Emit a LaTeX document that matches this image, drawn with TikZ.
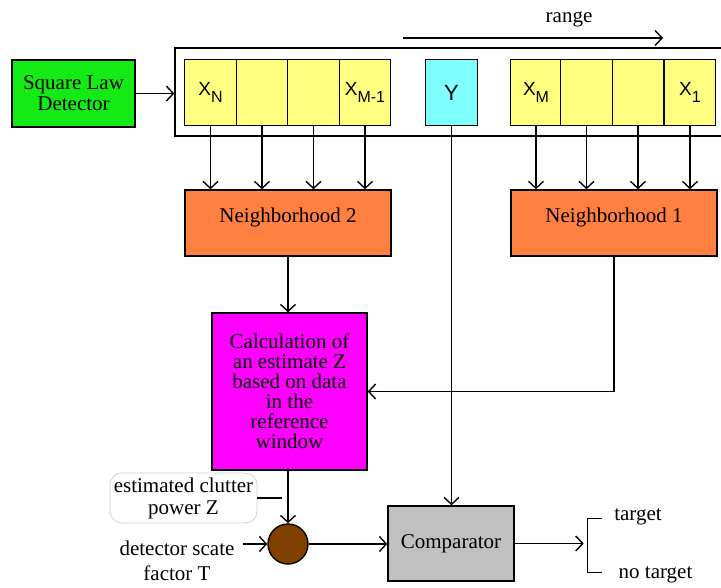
\documentclass[tikz,border=0pt]{standalone}
\usepackage{fontspec}
\setmainfont{Liberation Serif}
\newfontfamily\cellfont{Liberation Sans}
\usetikzlibrary{arrows.meta,positioning}

\definecolor{detgreen}{RGB}{20,235,20}
\definecolor{cellyellow}{RGB}{255,255,128}
\definecolor{cellcyan}{RGB}{128,255,255}
\definecolor{nborange}{RGB}{255,128,64}
\definecolor{calcmagenta}{RGB}{255,0,255}
\definecolor{compgray}{RGB}{192,192,192}
\definecolor{mulbrown}{RGB}{128,64,0}

\newcommand{\sublab}[2]{#1\raisebox{-7pt}{\fontsize{16}{16}\selectfont #2}}

\begin{document}
\begin{tikzpicture}[x=1pt, y=-1pt, line width=1.4pt,
  >={Straight Barb[length=7pt, width=15pt]},
  every node/.style={font=\fontsize{21}{21}\selectfont},
  % Plain boxes with a dark border
  blockbox/.style={draw, line width=1.4pt, inner sep=0pt, align=center},
  cellbox/.style={blockbox, fill=cellyellow, minimum width=51.5pt, minimum height=66pt,
                  font=\cellfont\fontsize{19}{19}\selectfont},
  nbbox/.style={blockbox, fill=nborange, minimum width=206pt, minimum height=66pt,
                text depth=15pt},
  textlab/.style={inner sep=2pt, align=center}
]
  \useasboundingbox (0,0) rectangle (721,587);

  % Detector and reference window
  \node[blockbox, fill=detgreen, minimum width=123pt, minimum height=67pt] (detector)
    at (73.5,93.5) {Square Law\\Detector};
  \node[draw, line width=1.4pt, minimum width=550pt, minimum height=88pt, inner sep=0pt]
    (window) at (450,92) {};
  \draw[->] (detector.east) -- (detector.east -| window.west);

  % Range direction
  \node[textlab] (rangelab) at (569,19) {range};
  \coordinate (rangestart) at (403,38);
  \draw[->] (rangestart) -- ++(260,0);

  % Cells of the window
  \foreach \i/\cx/\lab in {1/210.5/{\sublab{X}{N}}, 2/262/{}, 3/313.5/{}, 4/365/{\sublab{X}{M-1}}}
    \node[cellbox] (lc\i) at (\cx,92.5) {\lab};
  \foreach \i/\cx/\lab in {1/536/{\sublab{X}{M}}, 2/586.5/{}, 3/638/{}, 4/690/{\sublab{X}{1}}}
    \node[cellbox] (rc\i) at (\cx,92.5) {\lab};
  \node[cellbox, fill=cellcyan, font=\cellfont\fontsize{22}{22}\selectfont] (ycell)
    at (451.5,92.5) {Y};

  % Neighborhoods
  \node[nbbox] (nbtwo) at (288,223) {Neighborhood 2};
  \node[nbbox] (nbone) at (614,223) {Neighborhood 1};
  \foreach \i in {1,...,4} {
    \draw[->] (lc\i.south) -- (lc\i.south |- nbtwo.north);
    \draw[->] (rc\i.south) -- (rc\i.south |- nbone.north);
  }

  % Estimate of Z
  \node[blockbox, fill=calcmagenta, minimum width=155pt, minimum height=157pt,
        font=\fontsize{21}{20}\selectfont] (calc)
    at (289.5,391.5) {Calculation of\\an estimate Z\\based on data\\in the\\reference\\window};
  \draw[->] (nbtwo.south) -- (nbtwo.south |- calc.north);
  \draw[->] (nbone.south) |- (calc.east);

  % Multiplier
  \node[circle, draw, fill=mulbrown, minimum size=40pt, inner sep=0pt] (mult) at (288,544) {};
  \draw[->] (calc.south -| mult) -- (mult.north);
  \node[draw=gray!35, line width=0.8pt, rounded corners=12pt, minimum width=147pt,
        minimum height=50pt, align=center, inner sep=0pt, font=\fontsize{21}{22}\selectfont]
    (clutter) at (183.5,498) {estimated clutter\\power Z};
  \draw (clutter.east) -- ([xshift=-6pt]mult.north |- clutter.east);
  \node[textlab, font=\fontsize{21}{25}\selectfont] (scale) at (177,561) {detector scate\\factor T};
  \draw[->] ([xshift=6pt]scale.east |- mult) -- (mult.west);

  % Comparator and decision
  \node[blockbox, fill=compgray, minimum width=126pt, minimum height=75pt] (comp)
    at (451,543.5) {Comparator};
  \draw[->] (ycell.south) -- (ycell.south |- comp.north);
  \draw[->] (mult.east) -- (mult.east -| comp.west);
  \coordinate[right=73pt of comp.east] (fork);
  \draw[->] (comp.east) -- ([xshift=-4pt]fork);
  \draw (fork) ++(14,-25) -- ++(-14,0) -- ++(0,54) -- ++(14,0);
  \node[textlab] (target) at (638,517) {target};
  \node[textlab] (notarget) at (655.5,575) {no target};
\end{tikzpicture}
\end{document}
